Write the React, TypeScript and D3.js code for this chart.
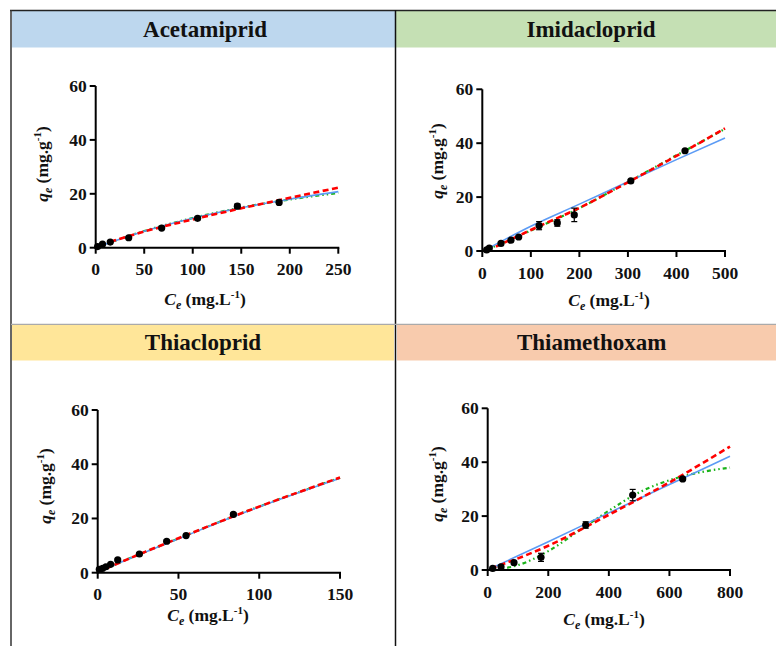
import React from "react";
import * as d3 from "d3";

// ---------- DATA ----------
const panelTitles = ["Acetamiprid", "Imidacloprid", "Thiacloprid", "Thiamethoxam"];
const headerColors = ["#BDD7EE", "#C5E0B4", "#FFE699", "#F8CBAD"];

const yTicks = [0, 20, 40, 60];
const acetXTicks = [0, 50, 100, 150, 200, 250];
const imiXTicks = [0, 100, 200, 300, 400, 500];
const thiaXTicks = [0, 50, 100, 150];
const thmXTicks = [0, 200, 400, 600, 800];

// Acetamiprid
const acetCe = [2, 7, 15, 34, 68, 105, 146, 189];
const acetQe = [0.4, 1.3, 2.1, 3.7, 7.3, 10.9, 15.4, 16.8];
const acetErr = [0.2, 0.2, 0.2, 0.3, 0.4, 0.5, 0.8, 0.6];
const acetBlueX = [2, 50, 100, 150, 200, 250];
const acetBlueY = [0.3, 6.1, 10.9, 14.8, 18.0, 20.8];
const acetRedX = [15, 50, 100, 150, 200, 250];
const acetRedY = [2.2, 6.0, 10.5, 14.6, 18.5, 22.3];
const acetGreenX = [2, 50, 100, 150, 200, 250];
const acetGreenY = [0.3, 6.2, 11.0, 14.9, 17.9, 20.3];

// Imidacloprid
const imiCe = [9, 14.4, 38.5, 59, 75, 117, 154.5, 189.5, 306, 417.6];
const imiQe = [0.4, 1.1, 2.8, 4.0, 5.2, 9.4, 10.4, 13.4, 26.0, 37.2];
const imiErr = [0.3, 0.3, 0.4, 0.3, 0.3, 1.5, 1.2, 2.5, 0.4, 0.4];
const imiBlueX = [5, 100, 200, 300, 400, 500];
const imiBlueY = [0.3, 9.2, 17.4, 25.7, 33.9, 41.9];
const imiRedX = [28, 100, 200, 300, 400, 500];
const imiRedY = [1.6, 7.8, 16.0, 25.5, 35.3, 45.5];
const imiGreenX = [10, 100, 200, 300, 400, 500];
const imiGreenY = [0.5, 7.6, 15.9, 25.6, 35.5, 45.3];

// Thiacloprid
const thiaCe = [1, 3.1, 5.1, 8, 12.4, 25.8, 42.7, 54.7, 84];
const thiaQe = [1.2, 1.6, 2.2, 3.1, 4.7, 6.9, 11.6, 13.7, 21.5];
const thiaErr = [0.2, 0.2, 0.2, 0.2, 0.3, 0.3, 0.4, 0.4, 0.5];
const thiaBlueX = [0.5, 25, 50, 85, 150];
const thiaBlueY = [0.3, 6.5, 12.5, 20.9, 34.8];
const thiaRedX = [5, 25, 50, 85, 150];
const thiaRedY = [1.5, 6.6, 12.7, 21.0, 35.1];
const thiaGreenX = [0.5, 25, 50, 85, 150];
const thiaGreenY = [0.3, 6.6, 12.6, 21.0, 35.0];

// Thiamethoxam
const thmCe = [16.5, 44, 86.8, 176, 323.5, 478.7, 643.8];
const thmQe = [0.6, 1.2, 2.7, 4.7, 16.7, 27.8, 33.8];
const thmErr = [0.3, 0.3, 0.4, 1.5, 1.2, 2.1, 0.5];
const thmBlueX = [5, 200, 400, 600, 800];
const thmBlueY = [0.3, 10.5, 21.2, 31.7, 42.2];
const thmRedX = [10, 200, 400, 600, 800];
const thmRedY = [0.5, 9.0, 20.5, 32.5, 45.8];
const thmGreenX = [12, 100, 200, 300, 400, 500, 600, 700, 800];
const thmGreenY = [0, 1.8, 7.0, 14.5, 22.0, 28.8, 33.3, 36.2, 38.0];

// ---------- LAYOUT ----------
const FONT = "'Liberation Serif', 'DejaVu Serif', serif";
const TICK_FS = 17.5;
const LAB_FS = 17.5;

type Panel = {
  title: string;
  color: string;
  xTicks: number[];
  ce: number[]; qe: number[]; err: number[];
  blue: [number[], number[]]; red: [number[], number[]]; green: [number[], number[]];
  box: { x0: number; x1: number; y0: number; y1: number };
  yLab: [number, number];
  xLab: [number, number];
  titlePos: [number, number];
};

const panels: Panel[] = [
  {
    title: panelTitles[0], color: headerColors[0], xTicks: acetXTicks,
    ce: acetCe, qe: acetQe, err: acetErr,
    blue: [acetBlueX, acetBlueY], red: [acetRedX, acetRedY], green: [acetGreenX, acetGreenY],
    box: { x0: 95.7, x1: 338.3, y0: 247.7, y1: 86 },
    yLab: [42, 164], xLab: [205, 305], titlePos: [205, 37],
  },
  {
    title: panelTitles[1], color: headerColors[1], xTicks: imiXTicks,
    ce: imiCe, qe: imiQe, err: imiErr,
    blue: [imiBlueX, imiBlueY], red: [imiRedX, imiRedY], green: [imiGreenX, imiGreenY],
    box: { x0: 482.3, x1: 725, y0: 251, y1: 89.3 },
    yLab: [437, 161], xLab: [609, 306], titlePos: [591, 37],
  },
  {
    title: panelTitles[2], color: headerColors[2], xTicks: thiaXTicks,
    ce: thiaCe, qe: thiaQe, err: thiaErr,
    blue: [thiaBlueX, thiaBlueY], red: [thiaRedX, thiaRedY], green: [thiaGreenX, thiaGreenY],
    box: { x0: 97.7, x1: 340, y0: 572.7, y1: 410 },
    yLab: [45, 486], xLab: [208, 621], titlePos: [203, 350],
  },
  {
    title: panelTitles[3], color: headerColors[3], xTicks: thmXTicks,
    ce: thmCe, qe: thmQe, err: thmErr,
    blue: [thmBlueX, thmBlueY], red: [thmRedX, thmRedY], green: [thmGreenX, thmGreenY],
    box: { x0: 487.7, x1: 730, y0: 570, y1: 408.3 },
    yLab: [437, 484], xLab: [604, 625], titlePos: [591.7, 350],
  },
];

function Chart({ p }: { p: Panel }) {
  const xMax = p.xTicks[p.xTicks.length - 1];
  const x = d3.scaleLinear().domain([0, xMax]).range([p.box.x0, p.box.x1]);
  const y = d3.scaleLinear().domain([0, 60]).range([p.box.y0, p.box.y1]);
  const line = (xs: number[], ys: number[]) =>
    d3.line<number>().x((_, i) => x(xs[i])).y((_, i) => y(ys[i])).curve(d3.curveMonotoneX)(xs) || "";
  return (
    <g>
      {/* curves */}
      <path d={line(p.green[0], p.green[1])} fill="none" stroke="#19B319" strokeWidth={2.2} strokeDasharray="4,3,1.5,3,1.5,3" />
      <path d={line(p.blue[0], p.blue[1])} fill="none" stroke="#5B9BF5" strokeWidth={1.6} />
      <path d={line(p.red[0], p.red[1])} fill="none" stroke="#FF0000" strokeWidth={2.6} strokeDasharray="6,3.5" />
      {/* error bars & points */}
      {p.ce.map((c, i) => {
        const cx = x(c);
        const top = y(p.qe[i] + p.err[i]);
        const bot = y(p.qe[i] - p.err[i]);
        return (
          <g key={i}>
            <line x1={cx} x2={cx} y1={top} y2={bot} stroke="#000" strokeWidth={1.2} />
            <line x1={cx - 3} x2={cx + 3} y1={top} y2={top} stroke="#000" strokeWidth={1.2} />
            <line x1={cx - 3} x2={cx + 3} y1={bot} y2={bot} stroke="#000" strokeWidth={1.2} />
            <circle cx={cx} cy={y(p.qe[i])} r={3.6} fill="#000" />
          </g>
        );
      })}
      {/* axes */}
      <line x1={p.box.x0} x2={p.box.x1 + 1} y1={p.box.y0} y2={p.box.y0} stroke="#000" strokeWidth={2} />
      <line x1={p.box.x0} x2={p.box.x0} y1={p.box.y0 + 1} y2={p.box.y1} stroke="#000" strokeWidth={2} />
      {p.xTicks.map((t) => (
        <g key={"x" + t}>
          <line x1={x(t)} x2={x(t)} y1={p.box.y0} y2={p.box.y0 + 6} stroke="#000" strokeWidth={2} />
          <text x={x(t)} y={p.box.y0 + 27.5} textAnchor="middle" fontSize={TICK_FS} fontWeight="bold" fontFamily={FONT} fill="#111">
            {t}
          </text>
        </g>
      ))}
      {yTicks.map((t) => (
        <g key={"y" + t}>
          <line x1={p.box.x0 - 6} x2={p.box.x0} y1={y(t)} y2={y(t)} stroke="#000" strokeWidth={2} />
          <text x={p.box.x0 - 9} y={y(t) + 6} textAnchor="end" fontSize={TICK_FS} fontWeight="bold" fontFamily={FONT} fill="#111">
            {t}
          </text>
        </g>
      ))}
      {/* y label */}
      <text
        transform={`translate(${p.yLab[0] + 6},${p.yLab[1]}) rotate(-90)`}
        textAnchor="middle" fontSize={LAB_FS} fontWeight="bold" fontFamily={FONT} fill="#111"
      >
        <tspan fontStyle="italic">q</tspan>
        <tspan fontStyle="italic" fontSize={12} dy={3.5}>e</tspan>
        <tspan dy={-3.5}> (mg.g</tspan>
        <tspan fontSize={11} dy={-7}>-1</tspan>
        <tspan dy={7}>)</tspan>
      </text>
      {/* x label */}
      <text x={p.xLab[0]} y={p.xLab[1]} textAnchor="middle" fontSize={LAB_FS} fontWeight="bold" fontFamily={FONT} fill="#111">
        <tspan fontStyle="italic">C</tspan>
        <tspan fontStyle="italic" fontSize={12} dy={3.5}>e</tspan>
        <tspan dy={-3.5}> (mg.L</tspan>
        <tspan fontSize={11} dy={-7}>-1</tspan>
        <tspan dy={7}>)</tspan>
      </text>
      {/* title */}
      <text x={p.titlePos[0]} y={p.titlePos[1]} textAnchor="middle" fontSize={23} fontWeight="bold" fontFamily={FONT} fill="#111">
        {p.title}
      </text>
    </g>
  );
}

export default function App() {
  return (
    <svg width={776} height={646} style={{ position: "absolute", left: 0, top: 0, background: "#fff" }}>
      <rect x={0} y={0} width={776} height={646} fill="#fff" />
      {/* header bands */}
      <rect x={12} y={11} width={383} height={36.5} fill={headerColors[0]} />
      <rect x={396} y={11} width={380} height={36.5} fill={headerColors[1]} />
      <rect x={12} y={325} width={382} height={35.5} fill={headerColors[2]} />
      <rect x={397} y={325} width={379} height={35.5} fill={headerColors[3]} />
      {/* frame */}
      <line x1={10} x2={776} y1={10.5} y2={10.5} stroke="#222" strokeWidth={1.5} />
      <line x1={11} x2={11} y1={10} y2={646} stroke="#333" strokeWidth={1.5} />
      <line x1={395.5} x2={395.5} y1={10} y2={646} stroke="#111" strokeWidth={1.5} />
      <line x1={11} x2={776} y1={324.3} y2={324.3} stroke="#aaa" strokeWidth={1.2} />
      {panels.map((p, i) => (
        <Chart key={i} p={p} />
      ))}
    </svg>
  );
}
